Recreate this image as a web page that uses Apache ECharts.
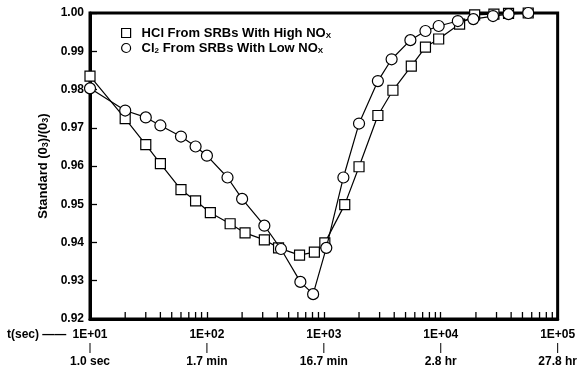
<!DOCTYPE html>
<html>
<head>
<meta charset="utf-8">
<script src="https://cdn.jsdelivr.net/npm/echarts@6/dist/echarts.min.js"></script>
<style>
html,body{margin:0;padding:0;background:#fff;}
#chart{width:580px;height:369px;}
</style>
</head>
<body>
<div id="chart"></div>
<script>
// ---- data ----
const hclName = 'HCl From SRBs With High NOx';
const cl2Name = 'Cl2 From SRBs With Low NOx';

const hclTime  = [10, 20, 30, 40, 60, 80, 107, 158, 212, 310, 410, 620, 830, 1020, 1510, 2000, 2900, 3900, 5600, 7400, 9600, 14500, 19500, 28500, 38000, 56000];
const hclRatio = [0.9835, 0.9724, 0.9656, 0.9606, 0.9538, 0.9509, 0.9478, 0.9449, 0.9425, 0.9407, 0.9386, 0.9367, 0.9375, 0.9399, 0.9499, 0.9598, 0.9732, 0.9798, 0.9861, 0.9911, 0.9932, 0.9971, 0.9995, 0.9997, 0.9999, 1.0000];

const cl2Time  = [10, 20, 30, 40, 60, 80, 100, 150, 200, 310, 430, 630, 810, 1050, 1470, 2000, 2900, 3800, 5500, 7400, 9600, 14000, 19000, 28000, 38000, 56000];
const cl2Ratio = [0.9803, 0.9745, 0.9727, 0.9706, 0.9677, 0.9651, 0.9627, 0.9570, 0.9514, 0.9444, 0.9383, 0.9297, 0.9265, 0.9386, 0.9570, 0.9711, 0.9822, 0.9879, 0.9929, 0.9953, 0.9966, 0.9979, 0.9984, 0.9992, 0.9997, 1.0000];

const xTickLabels = ['1E+01', '1E+02', '1E+03', '1E+04', '1E+05'];
const xTimeLabels = ['1.0 sec', '1.7 min', '16.7 min', '2.8 hr', '27.8 hr'];
const minorTickValues = [20,30,40,50,60,70,80,90, 200,300,400,500,600,700,800,900,
  2000,3000,4000,5000,6000,7000,8000,9000, 20000,30000,40000,50000,60000,70000,80000,90000];

const FONT = 'Liberation Sans';
const chart = echarts.init(document.getElementById('chart'), null, {renderer: 'canvas'});

const pairs = (xs, ys) => xs.map((x, i) => [x, ys[i]]);

const option = {
  animation: false,
  backgroundColor: '#fff',
  textStyle: {fontFamily: FONT, fontWeight: 'bold', color: '#000'},
  grid: {left: 90, right: 20, top: 13, bottom: 50, show: true, borderColor: '#000', borderWidth: 3},
  legend: {
    orient: 'vertical',
    left: 116, top: 21,
    itemWidth: 9, itemHeight: 9, itemGap: 1,
    textStyle: {
      fontFamily: FONT, fontWeight: 'bold', fontSize: 13, color: '#000', lineHeight: 14,
      padding: [0, 0, 0, 6],
      rich: {
        n: {fontFamily: FONT, fontWeight: 'bold', fontSize: 13, color: '#000', lineHeight: 14},
        s: {fontFamily: FONT, fontWeight: 'bold', fontSize: 8, color: '#000', lineHeight: 8, verticalAlign: 'bottom'}
      }
    },
    formatter: function (name) {
      if (name === hclName) return '{n|HCl From SRBs With High NO}{s|X}';
      return '{n|Cl}{s|2}{n| From SRBs With Low NO}{s|X}';
    },
    data: [
      {name: hclName, icon: 'rect', itemStyle: {color: '#fff', borderColor: '#000', borderWidth: 1.2}},
      {name: cl2Name, icon: 'circle', itemStyle: {color: '#fff', borderColor: '#000', borderWidth: 1.2}}
    ]
  },
  xAxis: {
    type: 'log', logBase: 10, min: 10, max: 100000,
    axisLine: {lineStyle: {color: '#000', width: 3}},
    axisTick: {inside: true, length: 7, lineStyle: {color: '#000', width: 1.3}},
    splitLine: {show: false},
    axisLabel: {
      margin: 8,
      showMaxLabel: true,
      formatter: function (v) {
        const i = Math.round(Math.log10(v)) - 1;
        return '{a|' + xTickLabels[i] + '}\n{b|}\n{c|' + xTimeLabels[i] + '}';
      },
      rich: {
        a: {fontFamily: FONT, fontWeight: 'bold', fontSize: 12, color: '#000', lineHeight: 16, align: 'center'},
        b: {width: 1, height: 10, backgroundColor: '#000', align: 'center'},
        c: {fontFamily: FONT, fontWeight: 'bold', fontSize: 12, color: '#000', lineHeight: 16, align: 'center', padding: [1, 0, 0, 0]}
      }
    }
  },
  yAxis: {
    type: 'value', min: 0.92, max: 1.00, interval: 0.01,
    name: 'Standard (0{s|3})/(0{s|3})',
    nameLocation: 'middle', nameGap: 38,
    nameTextStyle: {
      fontFamily: FONT, fontWeight: 'bold', fontSize: 13, color: '#000',
      rich: {s: {fontFamily: FONT, fontWeight: 'bold', fontSize: 9, color: '#000', verticalAlign: 'bottom', lineHeight: 9}}
    },
    axisLine: {show: true, lineStyle: {color: '#000', width: 3}},
    axisTick: {show: true, inside: true, length: 7, lineStyle: {color: '#000', width: 1.3}},
    splitLine: {show: false},
    axisLabel: {
      margin: 6, fontFamily: FONT, fontWeight: 'bold', fontSize: 12, color: '#000',
      formatter: v => v.toFixed(2)
    }
  },
  graphic: [
    {type: 'text', left: 7, top: 329, style: {text: 't(sec) ——', fontFamily: FONT, fontWeight: 'bold', fontSize: 12, fill: '#000'}}
  ],
  series: [
    {
      type: 'custom', silent: true, z: 1,
      data: minorTickValues.map(v => [v, 0.92]),
      renderItem: function (params, api) {
        const p = api.coord([api.value(0), api.value(1)]);
        return {type: 'line', shape: {x1: p[0], y1: p[1], x2: p[0], y2: p[1] - 7},
          style: {stroke: '#000', lineWidth: 1.3}};
      }
    },
    {
      name: hclName, type: 'line', data: pairs(hclTime, hclRatio),
      symbol: 'rect', symbolSize: 10, showAllSymbol: true, clip: false, z: 3,
      lineStyle: {color: '#000', width: 1.2},
      itemStyle: {color: '#fff', borderColor: '#000', borderWidth: 1.2}
    },
    {
      name: cl2Name, type: 'line', data: pairs(cl2Time, cl2Ratio),
      symbol: 'circle', symbolSize: 11, showAllSymbol: true, clip: false, z: 4,
      lineStyle: {color: '#000', width: 1.2},
      itemStyle: {color: '#fff', borderColor: '#000', borderWidth: 1.2}
    }
  ]
};
chart.setOption(option);
</script>
</body>
</html>
